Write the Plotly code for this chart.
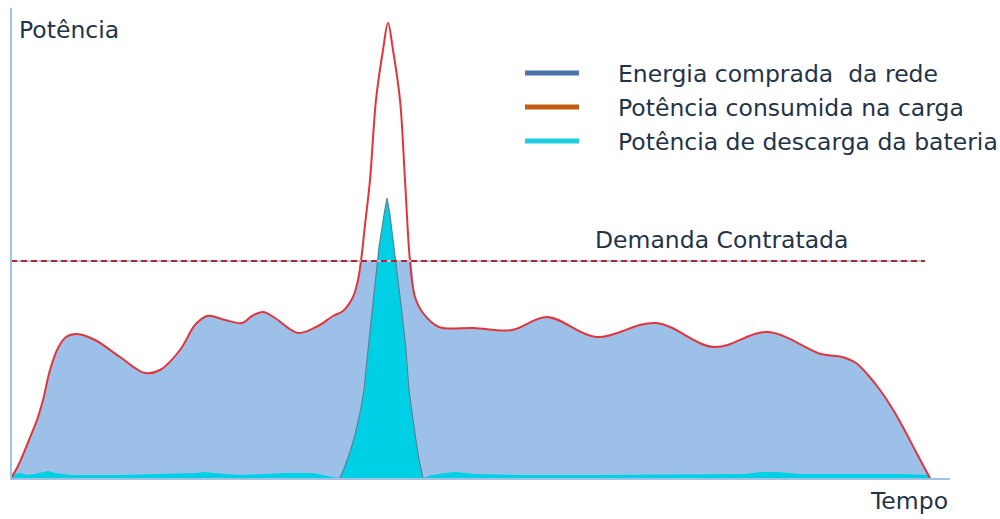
import numpy as np
import plotly.graph_objects as go

# Load profile over the day (arbitrary time / power units)
t_load = [0, 7, 14, 20, 26, 32, 39, 47, 55, 66, 84, 109, 134, 149, 169, 184, 196, 214,
          231, 241, 252, 264, 287, 307, 322, 332, 342, 347, 350, 354, 359, 365, 372, 377,
          382, 389, 394, 399, 404, 412, 428, 463, 501, 536, 585, 645, 703, 757, 810, 831,
          845, 857, 869, 881, 893, 905, 919]
p_load = [0, 12, 28, 43, 58, 78, 108, 130, 141, 144, 138, 121, 105, 108, 128, 153, 162, 158,
          155, 162, 166, 160, 145, 152, 162, 167, 181, 198, 217, 253, 298, 378, 428, 455,
          428, 378, 298, 217, 181, 165, 151, 150, 148, 161, 141, 155, 131, 146, 124, 121,
          115, 103, 88, 70, 49, 26, 0]

# Battery discharge power
t_bat = [0, 4, 9, 16, 24, 31, 37, 44, 59, 109, 169, 186, 194, 202, 229, 249, 274, 302, 311,
         321, 329, 334, 339, 344, 349, 353, 357, 361, 368, 373, 376, 379, 383, 391, 395, 398,
         401, 405, 408, 412, 421, 434, 444, 464, 509, 589, 689, 734, 749, 766, 789, 889, 918,
         920]
p_bat = [0, 4, 5, 3, 4, 6, 7, 5, 3, 3, 4, 5, 6, 5, 3, 4, 5, 5, 3,
         1, 0, 12, 26, 43, 65, 88, 128, 165, 231, 263, 280, 263, 231, 165, 128, 88,
         65, 38, 18, 0, 3, 5, 6, 4, 3, 3, 4, 4, 6, 6, 4, 4, 3,
         0]

demanda_contratada = 217

legend_labels = ["Energia comprada  da rede",
                 "Potência consumida na carga",
                 "Potência de descarga da bateria"]
legend_colors = ["#4A73AA", "#C55A11", "#1FCDE0"]

TEXT = "#1F3448"
FONT = "DejaVu Sans"
W, H = 1000, 519

t_load = np.array(t_load)
p_load = np.array(p_load)
t_bat = np.array(t_bat)
p_bat = np.array(p_bat)
p_rede = np.minimum(p_load, demanda_contratada)

SMOOTH = 1.0

fig = go.Figure()

# Power bought from the grid, capped at the contracted demand
fig.add_trace(go.Scatter(
    x=t_load, y=p_rede, mode="lines", fill="tozeroy",
    fillcolor="#9DC0E8", line=dict(width=0, shape="spline", smoothing=SMOOTH),
    hoverinfo="skip"))

# Battery discharge
fig.add_trace(go.Scatter(
    x=t_bat, y=p_bat, mode="lines", fill="tozeroy",
    fillcolor="#00D0E6", line=dict(width=0, color="#00D0E6"),
    hoverinfo="skip"))
pico = (t_bat >= 329) & (t_bat <= 412)
fig.add_trace(go.Scatter(
    x=t_bat[pico], y=p_bat[pico], mode="lines",
    line=dict(width=1.2, color="#5A8396"), hoverinfo="skip"))

# Load consumption
fig.add_trace(go.Scatter(
    x=t_load, y=p_load, mode="lines",
    line=dict(width=2, color="#E2343B", shape="spline", smoothing=SMOOTH),
    hoverinfo="skip"))


def px(x):
    return x / W


def py(y):
    return 1 - y / H


shapes = [
    # contracted demand line
    dict(type="line", xref="x", yref="y", x0=0, x1=914,
         y0=demanda_contratada, y1=demanda_contratada,
         line=dict(color="#A9CBE8", width=2), layer="above"),
    dict(type="line", xref="x", yref="y", x0=0, x1=914,
         y0=demanda_contratada, y1=demanda_contratada,
         line=dict(color="#B5262E", width=2, dash="6px,4px"), layer="above"),
    # axes
    dict(type="line", xref="paper", yref="paper", x0=px(11), x1=px(11),
         y0=py(8), y1=py(479), line=dict(color="#9DC3E6", width=2), layer="above"),
    dict(type="line", xref="paper", yref="paper", x0=px(10), x1=px(950),
         y0=py(479), y1=py(479), line=dict(color="#9DC3E6", width=2), layer="above"),
]

annotations = [
    dict(text="Potência", x=px(17), y=py(30), xanchor="left", yanchor="middle"),
    dict(text="Tempo", x=px(868), y=py(517), xanchor="left", yanchor="bottom"),
    dict(text="Demanda Contratada", x=px(593), y=py(240), xanchor="left", yanchor="middle"),
]

# Legend swatches and labels
for i, (lab, col) in enumerate(zip(legend_labels, legend_colors)):
    yy = 73 + 34 * i
    shapes.append(dict(type="line", xref="paper", yref="paper",
                       x0=px(525), x1=px(579), y0=py(yy), y1=py(yy),
                       line=dict(color=col, width=5)))
    annotations.append(dict(text=lab, x=px(616), y=py(yy + 1),
                            xanchor="left", yanchor="middle"))

for a in annotations:
    a.update(xref="paper", yref="paper", showarrow=False,
             font=dict(family=FONT, size=23.5, color=TEXT))

fig.update_layout(
    width=W, height=H,
    margin=dict(l=0, r=0, t=0, b=0),
    paper_bgcolor="white", plot_bgcolor="white",
    showlegend=False,
    xaxis=dict(range=[-11, 989], visible=False, fixedrange=True),
    yaxis=dict(range=[-41, 478], visible=False, fixedrange=True),
    shapes=shapes, annotations=annotations,
)

fig.write_html("out.html", config={"displayModeBar": False})
